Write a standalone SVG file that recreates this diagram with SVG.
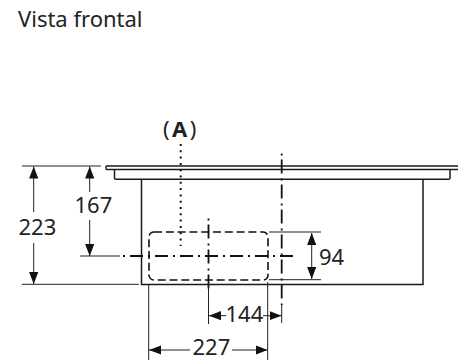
<svg xmlns="http://www.w3.org/2000/svg" width="458" height="362" viewBox="0 0 458 362">
<style>
text{font-family:"Noto Sans","Liberation Sans",sans-serif;fill:#222;font-size:22px}
.o{fill:none;stroke:#1a1a1a;stroke-width:1.5}
.t{fill:none;stroke:#222;stroke-width:1}
.c{fill:none;stroke:#111;stroke-width:1.8;stroke-dasharray:2 5 13 5}
.v{fill:none;stroke:#111;stroke-width:1.8;stroke-dasharray:2 4 14 5}
.d{fill:none;stroke:#111;stroke-width:1.6;stroke-dasharray:8 3.8}
.p{fill:none;stroke:#111;stroke-width:2;stroke-dasharray:2 4.3}
</style>
<defs>
<marker id="a" markerUnits="userSpaceOnUse" markerWidth="12" markerHeight="10" refX="12" refY="5" orient="auto-start-reverse"><path d="M0 0.4L12 5L0 9.6z" fill="#111"/></marker>
</defs>
<text x="18" y="27">Vista frontal</text>
<g id="appliance">
<path class="o" d="M106 166H458M106 169.5H458M106 166V169.5" style="stroke-width:1.4"/>
<path class="o" d="M114.5 170V178a1.3 1.3 0 0 0 1.3 1.3H448.7a1.3 1.3 0 0 0 1.3-1.3V170"/>
<path class="o" d="M141.5 179.5V284.5H423V179.5"/>
</g>
<g id="zone">
<rect class="d" x="149" y="232" width="119" height="48" rx="5"/>
</g>
<g id="label-a">
<text x="163" y="136.5" style="letter-spacing:2.5px">(<tspan font-weight="700">A</tspan>)</text>
<path class="p" d="M180.7 144V246"/>
</g>
<g id="connectors">
<path class="c" d="M123 256H293"/>
<path class="v" d="M208.5 218.5V289"/>
<path class="v" d="M281.7 153.5V305"/>
<path class="t" d="M22 166H101M22 284.3H139M80 256H120M269 232H321M269 279.7H321"/>
<path class="t" d="M148.7 284V360M267.7 282V360M208.5 284V324M281.7 305V323"/>
<path class="t" d="M33.7 166.5V212" marker-start="url(#a)"/>
<path class="t" d="M33.7 243V284" marker-end="url(#a)"/>
<path class="t" d="M89.7 166.5V192" marker-start="url(#a)"/>
<path class="t" d="M89.7 220V256" marker-end="url(#a)"/>
<path class="t" d="M311.7 233V279" marker-start="url(#a)" marker-end="url(#a)"/>
<path class="t" d="M209 315.7H226" marker-start="url(#a)"/>
<path class="t" d="M263 315.7H281.5" marker-end="url(#a)"/>
<path class="t" d="M149 350H190" marker-start="url(#a)"/>
<path class="t" d="M232 350H267.5" marker-end="url(#a)"/>
</g>
<g id="dimensions">
<text x="18.5" y="234.5">223</text>
<text x="74.5" y="213">167</text>
<text x="319" y="264.5">94</text>
<text x="225.5" y="321.5">144</text>
<text x="192.5" y="355">227</text>
</g>
</svg>
